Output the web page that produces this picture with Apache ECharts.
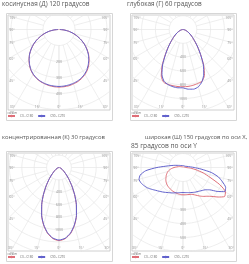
<!DOCTYPE html>
<html>
<head>
<meta charset="utf-8">
<script src="https://cdn.jsdelivr.net/npm/echarts@6/dist/echarts.min.js"></script>
<style>
html, body { margin: 0; padding: 0; background: #fff; }
#chart { width: 249px; height: 264px; }
</style>
</head>
<body>
<div id="chart"></div>
<script>
// углы от надира, градусы
var gamma = [0, 5, 10, 15, 20, 25, 30, 35, 40, 45, 50, 55, 60, 65, 70, 75, 80, 85, 90];
var gammaWide = gamma.concat([105, 120, 150, 180]);

// косинусная (Д) 120
var cosC180 = [360, 359, 356, 351, 345, 336, 324, 308, 288, 265, 240, 212, 182, 152, 120, 90, 60, 30, 4];
var cosC0 = [360, 359, 357, 352, 346, 337, 325, 309, 289, 266, 241, 213, 183, 152, 121, 90, 60, 31, 4];
var cosC270 = [356, 355, 353, 349, 343, 334, 322, 306, 286, 264, 240, 212, 184, 153, 122, 92, 62, 32, 5];
var cosC90 = [356, 355, 352, 348, 342, 333, 321, 305, 285, 263, 239, 211, 183, 152, 121, 91, 61, 31, 5];

// глубокая (Г) 60
var deepC180 = [830, 830, 828, 824, 815, 745, 605, 450, 333, 243, 182, 136, 101, 72, 50, 32, 18, 8, 2];
var deepC0 = [830, 828, 822, 812, 800, 735, 600, 445, 330, 240, 180, 135, 100, 71, 49, 31, 17, 8, 2];
var deepC270 = [845, 848, 842, 828, 800, 722, 592, 442, 332, 245, 185, 138, 102, 74, 50, 32, 18, 8, 2];
var deepC90 = [848, 868, 878, 860, 805, 712, 590, 445, 333, 244, 184, 137, 101, 73, 50, 32, 18, 8, 2];

// концентрированная (К) 30
var concC180 = [1180, 1150, 1075, 960, 820, 660, 500, 360, 250, 170, 115, 80, 55, 38, 25, 15, 8, 3, 0];
var concC0 = [1180, 1152, 1080, 965, 825, 662, 500, 358, 248, 168, 114, 79, 54, 37, 24, 15, 8, 3, 0];
var concC270 = [1170, 1142, 1068, 955, 818, 660, 502, 362, 252, 172, 116, 80, 55, 38, 25, 15, 8, 3, 0];
var concC90 = [1170, 1145, 1072, 958, 822, 664, 504, 362, 251, 170, 115, 80, 55, 38, 25, 15, 8, 3, 0];

// широкая (Ш) 150 / 85
var wideC180 = [195, 194, 192, 189, 186, 183, 179, 175, 171, 165, 158, 150, 140, 132, 122, 112, 98, 82, 64, 25, 10, 5, 4];
var wideC0 = [195, 195, 196, 199, 205, 218, 235, 252, 268, 292, 328, 362, 350, 290, 205, 150, 95, 55, 22, 10, 6, 4, 4];
var wideC270 = [179, 180, 183, 187, 193, 200, 207, 217, 228, 240, 254, 272, 292, 307, 320, 325, 310, 268, 186, 60, 30, 16, 14];
var wideC90 = [179, 180, 182, 186, 190, 195, 200, 206, 214, 225, 248, 298, 345, 336, 300, 262, 205, 130, 80, 30, 18, 14, 14];

var sideAngles = [105, 90, 75, 60, 45];
var bottomAngles = [30, 15, 0];
var ringStep = [100, 200, 200, 100];
var ringLabels = [[200, 300, 400], [400, 600, 800, 1000], [400, 600, 800, 1000], [300, 400, 500]];
var seriesNames = ['C0 - C180', 'C90 - C270'];
var unitText = 'cd/klm';

var chart = echarts.init(document.getElementById('chart'));

var font = 'Open Sans';
var red = '#df6f78';
var blue = '#6262cc';

var panels = [
  { frame: [6, 13, 106, 107], scale: 0.16, angles: gamma, curves: [[cosC180, cosC0], [cosC270, cosC90]] },
  { frame: [130, 13, 106, 107], scale: 0.069, angles: gamma, curves: [[deepC180, deepC0], [deepC270, deepC90]] },
  { frame: [6, 151, 106, 110], scale: 0.062, angles: gamma, curves: [[concC180, concC0], [concC270, concC90]] },
  { frame: [130, 151, 106, 110], scale: 0.14, angles: gammaWide, curves: [[wideC180, wideC0], [wideC270, wideC90]] }
];

var titles = [
  { text: 'косинусная (Д) 120 градусов', left: 2, top: 1.5, size: 6.4 },
  { text: 'глубокая (Г) 60 градусов', left: 127, top: 1.5, size: 6.4 },
  { text: 'концентрированная (К) 30 градусов', left: 2, top: 134.5, size: 5.9 },
  { text: 'широкая (Ш) 150 градусов по оси X,', left: 145, top: 134.5, size: 5.9 },
  { text: '85 градусов по оси Y', left: 131, top: 142.5, size: 6.6 }
];

function rad(a) { return a * Math.PI / 180; }

function curve(angles, leftVals, rightVals) {
  var pts = [];
  for (var i = angles.length - 1; i >= 0; i--) {
    pts.push([-leftVals[i] * Math.sin(rad(angles[i])), -leftVals[i] * Math.cos(rad(angles[i]))]);
  }
  for (var j = 0; j < angles.length; j++) {
    pts.push([rightVals[j] * Math.sin(rad(angles[j])), -rightVals[j] * Math.cos(rad(angles[j]))]);
  }
  return pts;
}

var grids = [], xAxes = [], yAxes = [], series = [], legends = [];
var titleList = titles.map(function (t) {
  return { text: t.text, left: t.left, top: t.top, padding: 0,
    textStyle: { fontSize: t.size, fontWeight: 'normal', color: '#555', fontFamily: font } };
});
var graphics = [];

panels.forEach(function (p, i) {
  var fx = p.frame[0], fy = p.frame[1], fw = p.frame[2], fh = p.frame[3];
  var left = fx + 2, top = fy + 2, width = fw - 4, height = fh - 12;
  var ox = left + width / 2, oy = top + 14.5;
  var s = p.scale;
  var xmin = -(ox - left) / s, xmax = (left + width - ox) / s;
  var ymax = (oy - top) / s, ymin = -(top + height - oy) / s;
  var step = ringStep[i];

  graphics.push({ type: 'rect', shape: { x: fx + 0.5, y: fy + 0.5, width: fw, height: fh },
    style: { fill: 'none', stroke: '#d6d6d6', lineWidth: 1 }, silent: true });

  grids.push({ left: left, top: top, width: width, height: height, show: true,
    borderColor: '#c4c4c4', borderWidth: 0.8 });
  xAxes.push({ type: 'value', gridIndex: i, min: xmin, max: xmax, show: false });
  yAxes.push({ type: 'value', gridIndex: i, min: ymin, max: ymax, show: false });

  // сетка: кольца и лучи
  var rmax = Math.sqrt(Math.pow(Math.max(-xmin, xmax), 2) + ymin * ymin);
  var n = Math.ceil(rmax / step);
  var net = [];
  for (var k = 1; k <= n; k++) {
    var R = k * step;
    for (var a = 0; a <= 360; a += 3) {
      net.push([R * Math.sin(rad(a)), R * Math.cos(rad(a))]);
    }
    net.push(['-', '-']);
  }
  for (var b = 0; b <= 180; b += 15) {
    [-1, 1].forEach(function (side) {
      net.push([side * step * Math.sin(rad(b)), -step * Math.cos(rad(b))]);
      net.push([side * rmax * Math.sin(rad(b)), -rmax * Math.cos(rad(b))]);
      net.push(['-', '-']);
    });
  }
  series.push({ type: 'line', xAxisIndex: i, yAxisIndex: i, data: net, symbol: 'none',
    lineStyle: { color: '#e6e6e6', width: 0.7 }, silent: true, z: 1, animation: false });

  // кривые
  [red, blue].forEach(function (c, m) {
    series.push({ type: 'line', name: seriesNames[m], xAxisIndex: i, yAxisIndex: i,
      data: curve(p.angles, p.curves[m][0], p.curves[m][1]), smooth: 0.2, symbol: 'none',
      lineStyle: { color: c, width: 1 }, itemStyle: { color: c }, z: 3 + m, animation: false });
  });

  // подписи
  var lab = [];
  var px = 1 / s;
  sideAngles.forEach(function (a) {
    var yl = xmin / Math.tan(rad(a));
    yl = Math.min(Math.max(yl, ymin + 3 * px), ymax - 2.5 * px);
    lab.push({ value: [xmin + 1.2 * px, yl], name: a + '°', label: { align: 'left' } });
    lab.push({ value: [xmax - 1.2 * px, yl], name: a + '°', label: { align: 'right' } });
  });
  bottomAngles.forEach(function (a) {
    var xb = -ymin * Math.tan(rad(a));
    lab.push({ value: [-xb, ymin + 3 * px], name: a + '°', label: { align: 'center' } });
    if (a > 0) lab.push({ value: [xb, ymin + 3 * px], name: a + '°', label: { align: 'center' } });
  });
  ringLabels[i].forEach(function (v) {
    lab.push({ value: [0, -v], name: String(v), label: { align: 'center' } });
  });
  series.push({ type: 'scatter', xAxisIndex: i, yAxisIndex: i, data: lab, symbolSize: 0.1,
    itemStyle: { color: 'transparent' }, silent: true, z: 6, animation: false,
    label: { show: true, position: 'inside', formatter: '{b}', fontSize: 3.5, color: '#777',
      fontFamily: font, verticalAlign: 'middle' } });

  // легенда
  titleList.push({ text: unitText, left: fx + 1.5, top: top + height + 1.5, padding: 0,
    textStyle: { fontSize: 3, fontWeight: 'normal', color: '#666', fontFamily: font } });
  legends.push({ left: fx + 1, top: top + height + 4.5, padding: 0, itemWidth: 7, itemHeight: 3,
    itemGap: 4, selectedMode: false, data: seriesNames,
    textStyle: { fontSize: 3, color: '#666', fontFamily: font } });
});

chart.setOption({
  backgroundColor: '#fff',
  animation: false,
  title: titleList,
  legend: legends,
  grid: grids,
  xAxis: xAxes,
  yAxis: yAxes,
  series: series,
  graphic: graphics
});
</script>
</body>
</html>
